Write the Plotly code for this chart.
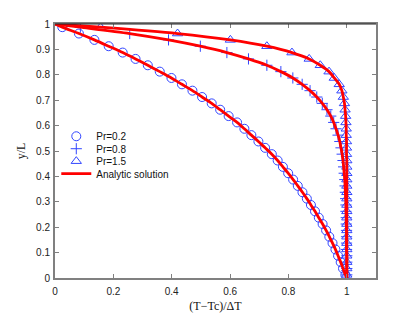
import plotly.graph_objects as go

# cell-centre positions y/L (40 cells)
y_pts = [0.9875 - 0.025 * i for i in range(40)]

pr02 = [0.025, 0.082, 0.135, 0.184, 0.232, 0.276, 0.318, 0.359, 0.399, 0.435,
        0.471, 0.504, 0.537, 0.566, 0.595, 0.624, 0.649, 0.673, 0.697, 0.720,
        0.743, 0.763, 0.781, 0.799, 0.816, 0.832, 0.848, 0.863, 0.877, 0.891,
        0.904, 0.917, 0.929, 0.940, 0.951, 0.961, 0.970, 0.979, 0.987, 0.995]

pr08 = [0.087, 0.256, 0.389, 0.498, 0.589, 0.663, 0.726, 0.774, 0.815, 0.847,
        0.874, 0.897, 0.916, 0.932, 0.945, 0.955, 0.963, 0.970, 0.976, 0.980,
        0.984, 0.987, 0.989, 0.991, 0.993, 0.994, 0.995, 0.996, 0.997, 0.997,
        0.998, 0.998, 0.999, 0.999, 0.999, 0.999, 1.000, 1.000, 1.000, 1.000]

pr15 = [0.156, 0.420, 0.601, 0.726, 0.812, 0.871, 0.909, 0.939, 0.957, 0.974,
        0.983, 0.988, 0.992, 0.994, 0.996, 0.997, 0.998, 0.998, 0.999, 0.999,
        0.999, 1.000, 1.000, 1.000, 1.000, 1.000, 1.000, 1.000, 1.000, 1.000,
        1.000, 1.000, 1.000, 1.000, 1.000, 1.000, 1.000, 1.000, 1.000, 1.000]

# analytic curves pass through wall values (0 at y=1, 1 at y=0)
wall_top = (0.0, 1.0)
wall_bot = (1.0, 0.0)

x_ticks = [0, 0.2, 0.4, 0.6, 0.8, 1]
y_ticks = [0, 0.1, 0.2, 0.3, 0.4, 0.5, 0.6, 0.7, 0.8, 0.9, 1]

names = ["Pr=0.2", "Pr=0.8", "Pr=1.5"]
symbols = ["circle-open", "cross-thin-open", "triangle-up-open"]
series = [pr02, pr08, pr15]
legend_ids = ["legend", "legend2", "legend3"]

blue = "rgb(50,70,255)"
fig = go.Figure()
for nm, sym, s, lg in zip(names, symbols, series, legend_ids):
    fig.add_trace(go.Scatter(
        x=s, y=y_pts, mode="markers", name=nm, legend=lg,
        marker=dict(symbol=sym, size=9 if sym != "cross-thin-open" else 8, color=blue,
                    line=dict(color=blue, width=1))))

for k, s in enumerate(series):
    xs = [wall_top[0]] + s + [wall_bot[0]]
    ys = [wall_top[1]] + y_pts + [wall_bot[1]]
    fig.add_trace(go.Scatter(
        x=xs, y=ys, mode="lines", name="Analytic solution", legend="legend4",
        line=dict(color="red", width=2.8, shape="spline", smoothing=0.8),
        showlegend=(k == 0)))

axis_common = dict(showgrid=False, zeroline=False, showline=True, automargin=False,
                   linecolor="#808080", linewidth=2, mirror="ticks",
                   ticks="inside", ticklen=4, tickcolor="#808080",
                   tickfont=dict(family="Liberation Sans", size=10, color="#222"))

leg_font = dict(family="Liberation Sans", size=10, color="#111")
def leg(yc):
    return dict(x=0.004, y=yc, xanchor="left", yanchor="middle",
                bgcolor="rgba(0,0,0,0)", font=leg_font, itemwidth=30)

fig.update_layout(
    width=407, height=305,
    margin=dict(l=46.5, r=39, t=16, b=35.3),
    paper_bgcolor="white", plot_bgcolor="white",
    xaxis=dict(range=[0, 1.1], tickvals=x_ticks,
               ticktext=[("%g" % v) for v in x_ticks],
               ticklabelstandoff=3,
               title=dict(text="(T\u2212Tc)/\u0394T", standoff=6,
                          font=dict(family="Liberation Serif", size=12, color="#111")),
               **axis_common),
    yaxis=dict(range=[0, 1], tickvals=y_ticks,
               ticktext=[("%g" % v) for v in y_ticks],
               ticklabelstandoff=1,
               title=dict(text="y/L", standoff=8,
                          font=dict(family="Liberation Serif", size=12, color="#111")),
               **axis_common),
    legend=leg(0.558), legend2=leg(0.509), legend3=leg(0.460), legend4=leg(0.411),
    showlegend=True,
    shapes=[dict(type="line", xref="paper", yref="paper", x0=0, x1=1, y0=1, y1=1,
                 line=dict(color="#222", width=1))],
)

fig.write_html("out.html")
